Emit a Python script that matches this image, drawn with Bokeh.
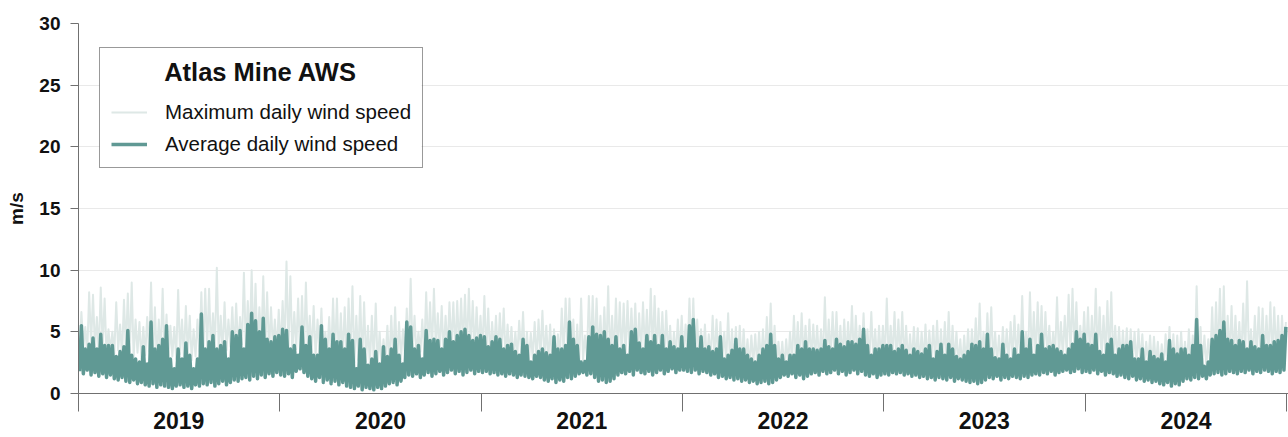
from datetime import date
from bokeh.plotting import figure
from bokeh.models import (ColumnDataSource, Range1d, FixedTicker, Legend, LegendItem,
                          Label, BoxAnnotation)
from bokeh.embed import file_html
from bokeh.resources import INLINE

# ---------------- data (weekly envelope values, m/s) ----------------
years = [2019, 2020, 2021, 2022, 2023, 2024]
year_labels = ["2019", "2020", "2021", "2022", "2023", "2024"]
y_ticks = [0, 5, 10, 15, 20, 25, 30]

avg_peak_2019 = [5.5,3.6,4.0,4.5,3.6,4.8,3.9,3.9,3.9,3.0, 3.4,3.8,5.1,3.1,2.8,2.55,3.8,2.4,5.8,3.6,
                 3.9,4.4,5.5,2.8,2.0,3.6,2.8,4.1,3.1,2.0, 2.8,6.45,3.6,4.2,4.7,3.6,3.9,4.2,2.8,5.0,
                 4.7,5.1,3.6,5.6,6.5,5.9,5.0,6.1,4.4,4.2, 4.6,4.7]
avg_low_2019 = [1.8,1.6,1.9,1.5,1.7,1.4,1.6,1.3,1.5,1.2, 1.1,1.3,1.0,0.9,1.1,0.8,0.9,0.7,0.6,0.8,
                0.5,0.7,0.6,0.5,0.4,0.6,0.7,0.5,0.6,0.4, 0.7,0.6,0.8,0.7,0.9,0.6,0.8,1.0,0.7,0.9,
                1.1,1.0,1.2,1.3,1.1,1.4,1.2,1.5,1.3,1.6, 1.4,1.7]
max_peak_2019 = [6.6,5.4,8.2,8.0,6.2,8.6,7.7,5.2,5.0,7.4, 5.6,7.6,8.1,9.0,6.0,5.8,5.4,6.2,9.0,7.0,
                 6.0,8.5,6.4,5.5,5.4,8.4,6.0,7.1,6.3,5.2, 6.0,8.2,8.5,8.5,6.5,10.2,6.3,7.4,6.0,7.0,
                 7.3,6.2,9.8,7.5,10.0,8.9,7.0,9.5,8.2,7.0, 6.0,6.8]
max_low_2019 = [3.4,3.8,3.2,4.0,3.6,3.3,3.7,3.1,3.4,3.2, 3.5,3.0,3.6,3.2,2.9,3.3,2.8,3.1,3.4,3.0,
                2.7,3.2,2.9,2.6,3.0,2.8,3.2,2.9,3.1,2.7, 3.0,3.4,3.2,3.6,3.3,3.7,3.4,3.2,3.5,3.8,
                3.4,3.7,4.0,3.6,4.1,3.8,3.5,3.9,3.6,3.3, 3.7,3.4]

avg_peak_2020 = [5.2,5.1,3.6,3.9,3.1,5.4,3.9,4.6,3.1,3.1, 5.5,4.4,3.6,4.8,4.2,4.2,3.6,4.8,4.3,2.0,
                 4.4,3.6,2.3,2.8,3.4,2.4,3.8,3.0,3.6,4.4, 3.1,2.4,5.8,5.4,3.6,3.9,2.8,5.1,4.3,4.4,
                 4.3,3.6,4.4,5.0,4.2,4.7,5.0,5.2,4.7,4.3, 4.5,4.7]
avg_low_2020 = [1.5,1.4,1.6,1.3,1.8,2.0,1.7,1.4,1.2,1.0, 1.3,0.9,1.1,0.8,1.0,0.7,0.9,0.6,0.5,0.4,
                0.6,0.3,0.5,0.4,0.3,0.5,0.4,0.6,0.8,0.9, 0.7,1.0,1.3,1.5,1.4,1.6,1.3,1.5,1.7,1.4,
                1.6,1.8,1.5,1.7,1.9,1.6,1.8,1.5,1.7,1.9, 1.6,1.8]
max_peak_2020 = [7.5,10.7,9.5,6.6,7.7,7.9,9.0,6.3,7.1,6.0, 6.9,5.0,6.2,7.7,7.7,6.5,7.0,7.7,8.7,6.3,
                 7.9,7.4,5.5,6.3,7.3,5.0,4.4,5.5,6.3,7.0, 5.8,5.2,6.9,9.3,6.3,5.0,6.0,8.2,7.4,8.5,
                 6.5,7.1,6.3,7.4,7.4,7.5,7.7,8.0,8.5,7.5, 7.0,6.3]
max_low_2020 = [3.5,3.8,3.4,3.2,3.6,3.3,3.1,3.5,3.2,3.0, 3.3,2.9,3.1,2.8,3.0,2.7,2.9,2.6,2.8,2.5,
                2.7,2.4,2.6,2.3,2.5,2.2,2.4,2.6,2.3,2.7, 2.5,2.8,3.2,3.0,3.3,3.1,3.4,3.2,3.5,3.3,
                3.6,3.4,3.2,3.5,3.7,3.4,3.6,3.8,3.5,3.7, 3.4,3.6]

avg_peak_2021 = [4.6,3.8,4.2,4.6,4.4,3.6,3.9,4.0,3.4,3.1, 4.4,3.9,2.55,3.1,3.4,3.6,3.3,3.1,4.6,3.6,
                 3.6,3.9,5.8,4.4,3.9,2.55,2.6,4.6,5.4,4.8, 4.7,5.0,4.4,3.9,4.6,3.6,3.9,3.1,5.0,5.2,
                 4.1,3.6,4.7,4.2,4.7,3.9,4.7,3.6,4.2,3.8, 3.6,4.6]
avg_low_2021 = [1.7,1.8,1.6,1.7,1.5,1.6,1.4,1.6,1.5,1.3, 1.5,1.4,1.3,1.2,1.4,1.3,1.1,1.0,1.2,0.9,
                1.1,1.0,1.3,1.2,1.4,1.6,1.7,1.5,1.6,1.3, 1.0,1.1,0.9,1.0,1.2,1.5,1.7,1.6,1.8,1.5,
                1.9,1.7,1.6,1.8,1.5,1.7,1.9,1.6,1.8,2.0, 1.7,1.9]
max_peak_2021 = [7.9,6.9,5.8,6.3,6.5,6.9,5.6,5.4,5.0,5.9, 6.6,5.0,4.9,5.8,6.0,6.7,5.5,5.6,5.2,4.8,
                 6.9,7.7,7.7,6.0,5.6,7.7,4.7,7.9,7.9,7.7, 6.3,7.0,8.7,6.3,7.7,7.4,7.3,7.5,6.9,7.3,
                 6.5,7.4,6.8,8.5,7.9,6.9,6.6,6.7,5.5,5.0, 6.0,6.3]
max_low_2021 = [3.4,3.2,3.0,3.3,3.1,3.4,2.9,3.1,2.8,3.0, 3.2,2.7,2.6,2.9,2.7,3.0,2.8,2.6,2.5,2.7,
                2.9,3.1,3.3,2.8,2.6,2.4,2.7,3.0,3.3,3.1, 3.2,2.9,3.1,2.8,3.0,3.2,2.9,3.1,3.3,3.5,
                3.0,3.2,3.4,3.1,3.3,3.0,3.2,2.9,3.1,2.8, 3.0,3.2]

avg_peak_2022 = [3.6,5.5,6.0,3.6,4.6,3.6,3.8,3.4,3.6,4.6, 2.8,3.1,3.5,4.4,3.6,3.6,3.1,2.8,2.55,3.1,
                 3.6,3.9,4.8,3.9,2.8,3.1,2.55,3.1,3.1,3.9, 3.6,4.2,3.6,3.6,3.5,3.6,4.3,3.8,3.6,4.4,
                 4.0,3.8,4.2,4.2,4.0,4.4,5.2,3.9,3.1,3.6, 3.6,3.9]
avg_low_2022 = [1.9,1.8,1.7,1.9,1.6,1.8,1.7,1.5,1.6,1.3, 1.4,1.2,1.3,1.1,1.2,1.0,1.1,0.9,1.0,0.8,
                0.9,1.0,0.8,0.9,1.1,1.3,1.5,1.4,1.6,1.3, 1.5,1.2,1.4,1.6,1.7,1.5,1.8,1.6,1.7,1.9,
                1.6,1.8,1.5,1.7,1.9,1.6,1.8,1.5,1.4,1.6, 1.3,1.5]
max_peak_2022 = [5.6,7.7,7.7,6.0,5.2,5.6,4.8,6.3,6.0,5.8, 5.0,6.5,5.2,5.4,5.5,5.2,4.4,4.7,4.8,5.0,
                 5.2,6.2,7.3,5.5,4.2,4.2,4.4,5.0,6.3,5.8, 6.5,5.5,6.0,5.6,5.5,5.2,7.8,6.0,6.6,6.6,
                 5.5,6.0,5.8,7.1,6.3,5.5,6.5,5.2,6.6,5.2, 5.5,5.5]
max_low_2022 = [3.2,3.0,3.1,2.8,2.7,2.9,2.6,2.8,2.7,2.5, 2.7,2.6,2.4,2.6,2.5,2.3,2.5,2.2,2.4,2.3,
                2.5,2.7,2.8,2.4,2.2,2.3,2.1,2.4,2.6,2.7, 2.5,2.8,2.6,2.7,2.9,2.6,2.8,2.7,2.9,3.0,
                2.8,2.7,2.9,3.1,2.8,3.0,3.1,2.8,2.7,2.9, 2.6,2.8]

avg_peak_2023 = [3.9,3.9,3.4,3.6,3.9,3.5,3.1,3.6,3.4,3.2, 3.6,3.9,2.8,3.4,4.0,3.1,4.0,3.6,3.0,2.8,
                 3.1,3.4,4.0,3.9,4.2,3.6,4.8,3.6,2.9,2.8, 4.0,3.1,2.8,3.6,3.1,5.0,3.6,4.4,3.1,3.9,
                 4.8,3.6,3.8,3.9,3.6,3.4,3.1,3.6,4.0,5.0, 4.4,4.8]
avg_low_2023 = [1.6,1.5,1.7,1.6,1.7,1.5,1.6,1.4,1.5,1.3, 1.4,1.2,1.3,1.1,1.3,1.2,1.1,1.3,1.0,1.2,
                1.1,1.0,0.9,1.0,0.8,0.9,1.1,1.3,1.2,1.4, 1.1,1.3,1.2,1.4,1.3,1.2,1.4,1.3,1.5,1.6,
                1.5,1.7,1.6,1.8,1.5,1.7,1.8,1.9,1.7,1.8, 2.0,1.7]
max_peak_2023 = [7.7,5.5,6.6,6.0,6.6,5.5,4.8,5.4,5.3,5.0, 5.6,5.1,5.5,5.9,5.2,5.8,6.6,5.5,5.0,4.4,
                 4.7,5.2,5.2,6.1,7.3,5.0,6.5,7.0,5.0,4.7, 5.4,5.2,5.8,6.3,5.6,7.9,5.0,8.2,6.6,7.4,
                 7.1,6.6,5.5,5.0,7.8,5.8,6.3,8.0,8.5,7.4, 5.5,6.6]
max_low_2023 = [2.8,2.7,2.9,2.6,2.8,2.7,2.5,2.7,2.6,2.4, 2.6,2.5,2.7,2.6,2.4,2.6,2.5,2.3,2.5,2.4,
                2.2,2.4,2.6,2.7,2.5,2.8,2.6,2.7,2.5,2.4, 2.6,2.7,2.5,2.8,2.6,2.9,2.7,3.0,2.8,2.9,
                3.1,2.9,3.0,2.8,3.1,2.9,3.0,3.2,3.1,3.3, 3.0,3.2]

avg_peak_2024 = [4.0,3.9,4.8,3.4,3.1,4.0,4.4,3.1,3.6,3.9, 3.9,4.2,2.8,2.8,3.6,2.55,3.4,3.0,2.8,3.2,
                 2.55,4.3,3.6,3.2,3.6,3.6,3.1,3.9,6.0,3.9, 2.2,2.55,4.4,4.7,5.1,5.8,4.4,4.3,3.9,4.3,
                 4.2,3.6,4.2,3.8,3.6,4.7,3.9,3.9,4.2,4.3, 4.7,5.4]
avg_low_2024 = [1.8,1.7,1.9,1.6,1.8,1.5,1.7,1.6,1.4,1.5, 1.3,1.2,1.4,1.1,1.2,1.0,1.1,0.9,1.0,0.8,
                0.7,0.9,0.6,0.8,0.7,1.0,1.2,1.1,1.3,1.2, 1.4,1.2,1.5,1.6,1.7,1.5,1.6,1.8,1.7,1.6,
                1.8,1.7,1.9,1.6,1.8,1.7,1.9,1.8,1.6,1.8, 1.7,1.9]
max_peak_2024 = [7.0,6.3,8.5,7.0,6.3,7.5,8.2,5.5,5.4,5.1, 5.3,5.2,5.0,5.2,4.8,4.2,4.7,4.6,4.2,4.0,
                 4.8,5.4,4.8,4.7,5.0,4.2,5.2,4.7,8.7,5.4, 4.7,4.4,7.0,7.4,8.5,8.7,6.3,7.1,6.3,5.8,
                 7.3,9.1,5.2,6.3,7.0,6.9,6.3,7.4,7.0,6.3, 6.3,5.8]
max_low_2024 = [3.1,2.9,3.2,3.0,2.8,3.0,2.7,2.6,2.8,2.5, 2.7,2.4,2.6,2.3,2.5,2.2,2.4,2.1,2.3,2.0,
                2.2,2.1,2.0,2.2,2.1,2.3,2.2,2.4,2.6,2.3, 2.1,2.2,2.5,2.8,3.0,2.9,2.7,2.9,2.8,3.0,
                2.7,2.9,3.1,2.8,3.0,2.9,2.7,3.0,2.8,3.1, 2.9,3.0]

avg_peaks = [avg_peak_2019, avg_peak_2020, avg_peak_2021, avg_peak_2022, avg_peak_2023, avg_peak_2024]
avg_lows = [avg_low_2019, avg_low_2020, avg_low_2021, avg_low_2022, avg_low_2023, avg_low_2024]
max_peaks = [max_peak_2019, max_peak_2020, max_peak_2021, max_peak_2022, max_peak_2023, max_peak_2024]
max_lows = [max_low_2019, max_low_2020, max_low_2021, max_low_2022, max_low_2023, max_low_2024]

# ---------------- build series on a day axis (days since 2019-01-01) ----------------
origin = date(2019, 1, 1)
bounds = [(date(y, 1, 1) - origin).days for y in years] + [(date(years[-1] + 1, 1, 1) - origin).days]

xs, avg_y, max_y = [], [], []
for k in range(len(years)):
    start, length = bounds[k], bounds[k + 1] - bounds[k]
    n = len(avg_peaks[k])
    for i in range(n):
        xs.append(start + (i + 0.25) * length / n)
        avg_y.append(avg_lows[k][i]); max_y.append(max_lows[k][i])
        xs.append(start + (i + 0.75) * length / n)
        avg_y.append(avg_peaks[k][i]); max_y.append(max_peaks[k][i])

src = ColumnDataSource(dict(x=xs, avg=avg_y, mx=max_y))
mids = [int((bounds[k] + bounds[k + 1]) / 2) for k in range(len(years))]

FONT = "Liberation Sans"
AVG_COL = "#609994"
MAX_COL = "#dee8e6"
AXIS_COL = "#707070"

p = figure(width=1288, height=437, output_backend="svg", toolbar_location=None,
           x_range=Range1d(0, bounds[-1] + 3), y_range=Range1d(0, 30),
           min_border_left=78, min_border_right=0, min_border_top=23, min_border_bottom=44)
p.outline_line_color = None
p.background_fill_color = "white"
p.border_fill_color = "white"

r_max = p.line("x", "mx", source=src, line_color=MAX_COL, line_width=2, line_join="round")
r_avg = p.line("x", "avg", source=src, line_color=AVG_COL, line_width=3.5, line_join="round")

# y axis
p.yaxis.ticker = FixedTicker(ticks=y_ticks)
p.yaxis.axis_label = "m/s"
p.yaxis.axis_label_text_font = FONT
p.yaxis.axis_label_text_font_size = "19px"
p.yaxis.axis_label_text_font_style = "bold"
p.yaxis.axis_label_text_color = "#111111"
p.yaxis.axis_label_standoff = 9
p.yaxis.major_label_text_font = FONT
p.yaxis.major_label_text_font_size = "19px"
p.yaxis.major_label_text_font_style = "bold"
p.yaxis.major_label_text_color = "#111111"
p.yaxis.major_label_standoff = 10
p.yaxis.major_tick_out = 8
p.yaxis.major_tick_in = 0
p.yaxis.minor_tick_out = 0
p.yaxis.minor_tick_in = 0
p.yaxis.axis_line_color = AXIS_COL
p.yaxis.major_tick_line_color = AXIS_COL

# x axis: year names at mid-year (major), tick marks at year boundaries (minor)
p.xaxis.ticker = FixedTicker(ticks=mids, minor_ticks=bounds)
p.xaxis.major_label_overrides = {m: t for m, t in zip(mids, year_labels)}
p.xaxis.major_label_text_font = FONT
p.xaxis.major_label_text_font_size = "23px"
p.xaxis.major_label_text_font_style = "bold"
p.xaxis.major_label_text_color = "#111111"
p.xaxis.major_label_standoff = 0
p.xaxis.major_tick_out = 0
p.xaxis.major_tick_in = 0
p.xaxis.minor_tick_out = 18
p.xaxis.minor_tick_in = 0
p.xaxis.axis_line_color = AXIS_COL
p.xaxis.minor_tick_line_color = AXIS_COL

p.xgrid.visible = False
p.ygrid.grid_line_color = "#e9e9e9"
p.ygrid.grid_line_width = 1

# legend (white panel behind it, then legend box, then centred title)
panel = BoxAnnotation(left=21, right=343, bottom=225, top=345,
                      left_units="screen", right_units="screen",
                      bottom_units="screen", top_units="screen",
                      fill_color="white", fill_alpha=1.0, line_color=None)
p.add_layout(panel)

legend = Legend(items=[LegendItem(label="Maximum daily wind speed", renderers=[r_max]),
                       LegendItem(label="Average daily wind speed", renderers=[r_avg])],
                location=(21, 225), title=" ", title_text_font=FONT,
                title_text_font_size="24px", title_text_font_style="bold", title_standoff=13,
                label_text_font=FONT, label_text_font_size="20.5px", label_text_color="#111111",
                glyph_width=36, glyph_height=22, label_standoff=18, label_width=200,
                label_height=22, spacing=8, padding=11, margin=0,
                border_line_color="#333333", border_line_width=1,
                background_fill_color="white", background_fill_alpha=0.0)
p.add_layout(legend)

title_lbl = Label(x=182, y=322, x_units="screen", y_units="screen", text="Atlas Mine AWS",
                  text_font=FONT, text_font_size="25.5px", text_font_style="bold",
                  text_align="center", text_baseline="alphabetic", text_color="#111111")
p.add_layout(title_lbl)

open("out.html", "w").write(file_html(p, INLINE))
